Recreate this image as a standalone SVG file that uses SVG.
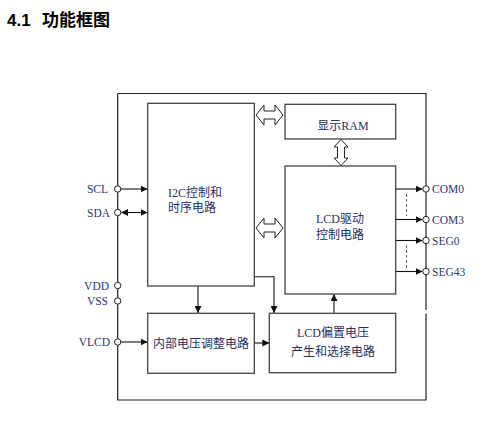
<svg xmlns="http://www.w3.org/2000/svg" width="491" height="425" viewBox="0 0 491 425">
<defs>
<marker id="ah" viewBox="0 0 10 10" refX="10" refY="5" markerWidth="7" markerHeight="7" markerUnits="userSpaceOnUse" orient="auto-start-reverse">
<path d="M0,0 L10,5 L0,10 z" fill="#111"/>
</marker>
<style>
.blk{fill:#fff;stroke:#444;stroke-width:1.3}
.fr{fill:none;stroke:#222;stroke-width:1.2}
.ln{fill:none;stroke:#111;stroke-width:1.1}
.dash{fill:none;stroke:#666;stroke-width:1;stroke-dasharray:3,2}
.pin{fill:#fff;stroke:#222;stroke-width:1}
.hol{fill:#fff;stroke:#222;stroke-width:1}
.t{font-family:"Liberation Serif","Noto Sans CJK SC",serif;font-size:12px;fill:#1f3160}
.tp{font-family:"Liberation Serif","Noto Sans CJK SC",serif;font-size:11.5px;fill:#1f3a70}
.title{font-family:"Liberation Sans","Noto Sans CJK SC",sans-serif;font-size:17px;font-weight:bold;fill:#000}
</style>
</defs>
<rect width="491" height="425" fill="#fff"/>
<text class="title" y="26"><tspan x="7">4.1</tspan><tspan x="42">功能框图</tspan></text>
<g id="frame">
<path class="fr" d="M117.7,93.5 H426 V310"/>
<path class="fr" d="M426,313.5 V400 H117.7 V93.5"/>
</g>
<g id="connectors">
<line class="ln" x1="121" y1="189" x2="147.5" y2="189" marker-end="url(#ah)"/>
<line class="ln" x1="121" y1="212.5" x2="147.5" y2="212.5" marker-start="url(#ah)" marker-end="url(#ah)"/>
<line class="ln" x1="121" y1="342" x2="147.5" y2="342" marker-end="url(#ah)"/>
<line class="ln" x1="198" y1="286" x2="198" y2="313" marker-end="url(#ah)"/>
<path class="ln" d="M254.3,276.7 H274 V313" marker-end="url(#ah)"/>
<line class="ln" x1="254.3" y1="343" x2="269.3" y2="343" marker-end="url(#ah)"/>
<line class="ln" x1="334" y1="313.3" x2="334" y2="294" marker-end="url(#ah)"/>
<line class="ln" x1="395.7" y1="189" x2="422.5" y2="189" marker-end="url(#ah)"/>
<line class="ln" x1="395.7" y1="219.5" x2="422.5" y2="219.5" marker-end="url(#ah)"/>
<line class="ln" x1="395.7" y1="240.5" x2="422.5" y2="240.5" marker-end="url(#ah)"/>
<line class="ln" x1="395.7" y1="271.5" x2="422.5" y2="271.5" marker-end="url(#ah)"/>
<line class="dash" x1="406.5" y1="194" x2="406.5" y2="216"/>
<line class="dash" x1="406.5" y1="245" x2="406.5" y2="268"/>
<path class="hol" d="M256,115 L264,105 V111 H275 V105 L283,115 L275,125 V119 H264 V125 Z"/>
<path class="hol" d="M256,228 L264,218 V224 H275 V218 L283,228 L275,238 V232 H264 V238 Z"/>
<path class="hol" d="M341,139.5 L348,147 H344.5 V158 H348 L341,165.5 L334,158 H337.5 V147 H334 Z"/>
</g>
<g id="pins">
<circle class="pin" cx="117.7" cy="189" r="3.2"/>
<circle class="pin" cx="117.7" cy="212.5" r="3.2"/>
<circle class="pin" cx="117.7" cy="285.5" r="3.2"/>
<circle class="pin" cx="117.7" cy="301" r="3.2"/>
<circle class="pin" cx="117.7" cy="342" r="3.2"/>
<circle class="pin" cx="426" cy="189" r="3.2"/>
<circle class="pin" cx="426" cy="219.5" r="3.2"/>
<circle class="pin" cx="426" cy="240.5" r="3.2"/>
<circle class="pin" cx="426" cy="271.5" r="3.2"/>
<text class="tp" x="108" y="193" text-anchor="end">SCL</text>
<text class="tp" x="110" y="216.5" text-anchor="end">SDA</text>
<text class="tp" x="109" y="289.5" text-anchor="end">VDD</text>
<text class="tp" x="108" y="305" text-anchor="end">VSS</text>
<text class="tp" x="110" y="346" text-anchor="end">VLCD</text>
<text class="tp" x="432" y="193">COM0</text>
<text class="tp" x="432" y="223.5">COM3</text>
<text class="tp" x="432" y="244.5">SEG0</text>
<text class="tp" x="432" y="275.5">SEG43</text>
</g>
<g id="i2c">
<rect class="blk" x="147.7" y="103.3" width="106.6" height="182.7"/>
<text class="t" x="168" y="197">I2C控制和</text>
<text class="t" x="168" y="212">时序电路</text>
</g>
<g id="ram">
<rect class="blk" x="285" y="104.3" width="110.7" height="34.7"/>
<text class="t" x="343" y="130" text-anchor="middle">显示RAM</text>
</g>
<g id="lcddrv">
<rect class="blk" x="285" y="166" width="110.7" height="128"/>
<text class="t" x="340" y="223" text-anchor="middle">LCD驱动</text>
<text class="t" x="340" y="239" text-anchor="middle">控制电路</text>
</g>
<g id="vreg">
<rect class="blk" x="147.7" y="313.3" width="106.6" height="60"/>
<text class="t" x="201" y="348" text-anchor="middle">内部电压调整电路</text>
</g>
<g id="bias">
<rect class="blk" x="269.3" y="313.3" width="126.4" height="59.4"/>
<text class="t" x="333" y="337" text-anchor="middle">LCD偏置电压</text>
<text class="t" x="333" y="356" text-anchor="middle">产生和选择电路</text>
</g>
</svg>
